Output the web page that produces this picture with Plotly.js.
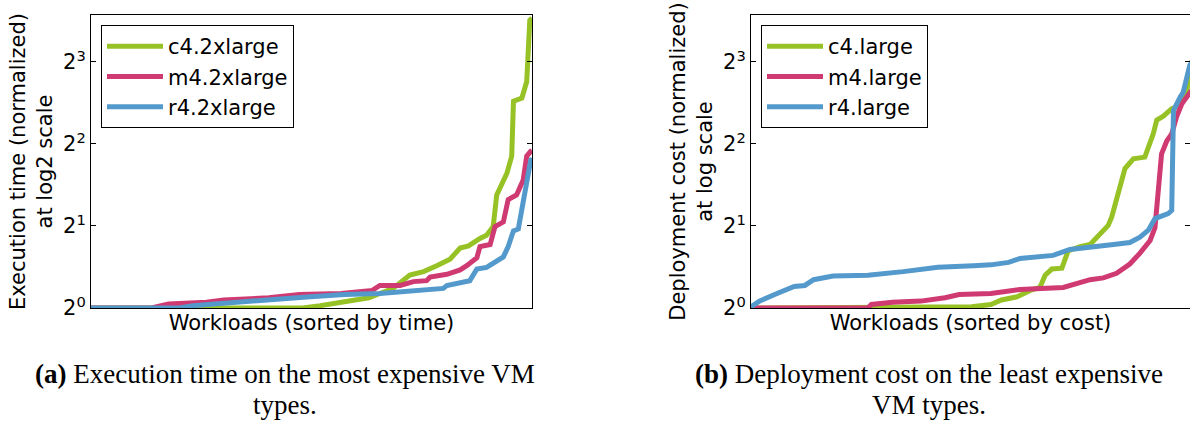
<!DOCTYPE html>
<html>
<head>
<meta charset="utf-8">
<script src="https://cdn.plot.ly/plotly-3.0.1.min.js"></script>
<style>
  html, body { margin: 0; padding: 0; background: #ffffff; }
  #chart { width: 1190px; height: 421px; }
</style>
</head>
<body>
<div id="chart"></div>
<script>
// Workload rank (0..100, sorted) and normalized values, panel (a): execution time
const timeRankC4 = [0, 48, 52, 57.5, 61, 63, 65.5, 68.5, 72.3, 75.4, 78.4, 81.4, 83.7, 85.6, 88.2, 89.7, 91.2, 92.0, 94.3, 95.4, 95.8, 97.7, 98.8, 99.5, 100];
const timeC4 = [1.00, 1.00, 1.02, 1.05, 1.07, 1.09, 1.13, 1.18, 1.32, 1.36, 1.43, 1.51, 1.66, 1.69, 1.80, 1.85, 1.99, 2.60, 3.12, 3.61, 5.74, 5.90, 6.77, 11.4, 11.6];

const timeRankM4 = [0, 13.7, 17.6, 26.2, 30.1, 40.3, 47.3, 56.7, 63.8, 65.5, 70.1, 73.1, 76.1, 76.9, 80.7, 83.7, 85.2, 87.5, 88.2, 90.5, 91.6, 93.5, 94.6, 96.5, 98.0, 98.8, 99.7, 100];
const timeM4 = [1.00, 1.00, 1.035, 1.05, 1.07, 1.09, 1.12, 1.13, 1.16, 1.21, 1.21, 1.25, 1.26, 1.30, 1.33, 1.38, 1.43, 1.53, 1.68, 1.71, 1.99, 2.07, 2.50, 2.60, 2.95, 3.61, 3.76, 3.78];

const timeRankR4 = [0, 20, 23.1, 32.5, 41.9, 49.7, 57.5, 65.5, 79.9, 80.7, 85.9, 87.5, 89.7, 91.2, 93.5, 94.6, 95.8, 96.9, 98.0, 99.7, 100];
const timeR4 = [1.00, 1.00, 1.02, 1.05, 1.08, 1.10, 1.12, 1.13, 1.18, 1.21, 1.26, 1.39, 1.41, 1.46, 1.54, 1.68, 1.92, 1.95, 2.50, 3.48, 3.55];

// Panel (b): deployment cost
const costRankC4 = [0, 46.4, 50, 54.4, 56.8, 60.4, 63.3, 65.5, 66.7, 68.2, 70.5, 71.9, 74.6, 76.9, 78.4, 81.0, 81.8, 83.3, 84.8, 86.7, 89.3, 91.2, 92.0, 93.5, 95.4, 96.5, 98.0, 99.0, 100];
const costC4 = [1.00, 1.00, 1.01, 1.03, 1.07, 1.10, 1.16, 1.19, 1.32, 1.39, 1.40, 1.62, 1.68, 1.71, 1.82, 2.01, 2.16, 2.69, 3.25, 3.53, 3.58, 4.35, 4.89, 5.06, 5.39, 5.46, 5.78, 6.50, 8.11];

const costRankM4 = [0, 26.5, 27.3, 32.1, 38.5, 44, 47.2, 54.4, 61, 70.8, 76.9, 79.9, 82.9, 85.9, 88.2, 90.5, 91.6, 92.4, 93.1, 94.3, 95.4, 96.5, 97.7, 100];
const costM4 = [1.00, 1.00, 1.03, 1.05, 1.06, 1.09, 1.12, 1.13, 1.17, 1.19, 1.27, 1.29, 1.34, 1.45, 1.59, 1.77, 1.97, 2.69, 3.68, 4.11, 4.35, 5.03, 5.62, 6.32];

const costRankR4 = [0, 1.9, 5.9, 9.8, 12.2, 14.2, 18.6, 26.5, 34.5, 42.4, 50.4, 54.4, 58.4, 61, 68.5, 72.3, 82.2, 85.9, 88.2, 90.1, 91.6, 94.6, 95.4, 95.8, 97.3, 98.0, 99.5, 100];
const costR4 = [1.01, 1.06, 1.13, 1.20, 1.21, 1.27, 1.31, 1.32, 1.36, 1.41, 1.43, 1.44, 1.47, 1.52, 1.56, 1.64, 1.71, 1.74, 1.82, 1.93, 2.13, 2.22, 2.28, 5.31, 5.94, 6.19, 7.78, 8.00];

const namesTime = ['c4.2xlarge', 'm4.2xlarge', 'r4.2xlarge'];
const namesCost = ['c4.large', 'm4.large', 'r4.large'];
const yTickVals = [1, 2, 4, 8];
const yTickText = ['2<sup>0</sup>', '2<sup>1</sup>', '2<sup>2</sup>', '2<sup>3</sup>'];

const colors = ['#97c225', '#d03a72', '#5499cc'];
const SANS = 'DejaVu Sans, sans-serif';
const SERIF = 'Liberation Serif, serif';

function line(x, y, name, i, ax, leg) {
  return {
    type: 'scatter', mode: 'lines', x: x, y: y, name: name,
    xaxis: ax[0], yaxis: ax[1], legend: leg, legendgroup: leg + i,
    line: { color: colors[i], width: 5 },
    hoverinfo: 'skip'
  };
}

const traces = [
  line(timeRankC4, timeC4, namesTime[0], 0, ['x', 'y'], 'legend'),
  line(timeRankM4, timeM4, namesTime[1], 1, ['x', 'y'], 'legend'),
  line(timeRankR4, timeR4, namesTime[2], 2, ['x', 'y'], 'legend'),
  line(costRankC4, costC4, namesCost[0], 0, ['x2', 'y2'], 'legend2'),
  line(costRankM4, costM4, namesCost[1], 1, ['x2', 'y2'], 'legend2'),
  line(costRankR4, costR4, namesCost[2], 2, ['x2', 'y2'], 'legend2')
];

const W = 1190, H = 421;
const yDom = [1 - 308 / H, 1 - 15 / H];
const yRange = [0, Math.log10(11.9)];

function xAxis(dom, range, title) {
  return {
    domain: dom, range: range, showline: true, mirror: true, linecolor: '#000', linewidth: 1,
    showticklabels: false, ticks: '', showgrid: false, zeroline: false, fixedrange: true,
    title: { text: title, font: { family: SANS, size: 21, color: '#000' }, standoff: 7 }
  };
}
function yAxis(anchor, title) {
  return {
    anchor: anchor, domain: yDom, type: 'log', range: yRange,
    tickvals: yTickVals, ticktext: yTickText,
    showline: true, mirror: 'ticks', linecolor: '#000', linewidth: 1,
    ticks: 'inside', ticklen: 5, tickcolor: '#000', showgrid: false, zeroline: false,
    tickfont: { family: SANS, size: 21, color: '#000' },
    title: { text: title, font: { family: SANS, size: 21, color: '#000' }, standoff: 4 }
  };
}
function legendBox(x) {
  return {
    x: x, y: 1 - 25 / H, xanchor: 'left', yanchor: 'top', xref: 'paper', yref: 'paper',
    bgcolor: '#ffffff', bordercolor: '#000', borderwidth: 1,
    font: { family: SANS, size: 21, color: '#000' },
    traceorder: 'grouped', tracegroupgap: 0, itemwidth: 56
  };
}
function caption(text, x, y) {
  return {
    text: text, xref: 'paper', yref: 'paper', x: x / W, y: 1 - y / H,
    xanchor: 'center', yanchor: 'middle', showarrow: false,
    font: { family: SERIF, size: 27, color: '#000' }
  };
}

const layout = {
  width: W, height: H,
  margin: { l: 0, r: 0, t: 0, b: 0 },
  paper_bgcolor: '#ffffff', plot_bgcolor: '#ffffff',
  showlegend: true,
  xaxis: xAxis([91 / W, 532 / W], [0, 100], 'Workloads (sorted by time)'),
  yaxis: yAxis('x', 'Execution time (normalized)<br>at log2 scale'),
  xaxis2: xAxis([751 / W, 1], [0, 100 * 439 / 441], 'Workloads (sorted by cost)'),
  yaxis2: yAxis('x2', 'Deployment cost (normalized)<br>at log scale'),
  legend: legendBox(101 / W),
  legend2: legendBox(761 / W),
  annotations: [
    caption('<b>(a)</b> Execution time on the most expensive VM', 285, 374),
    caption('types.', 285, 405),
    caption('<b>(b)</b> Deployment cost on the least expensive', 929, 374),
    caption('VM types.', 929, 405)
  ]
};
layout.xaxis.anchor = 'y';
layout.xaxis2.anchor = 'y2';

Plotly.newPlot('chart', traces, layout, { staticPlot: true, displayModeBar: false });
</script>
</body>
</html>
